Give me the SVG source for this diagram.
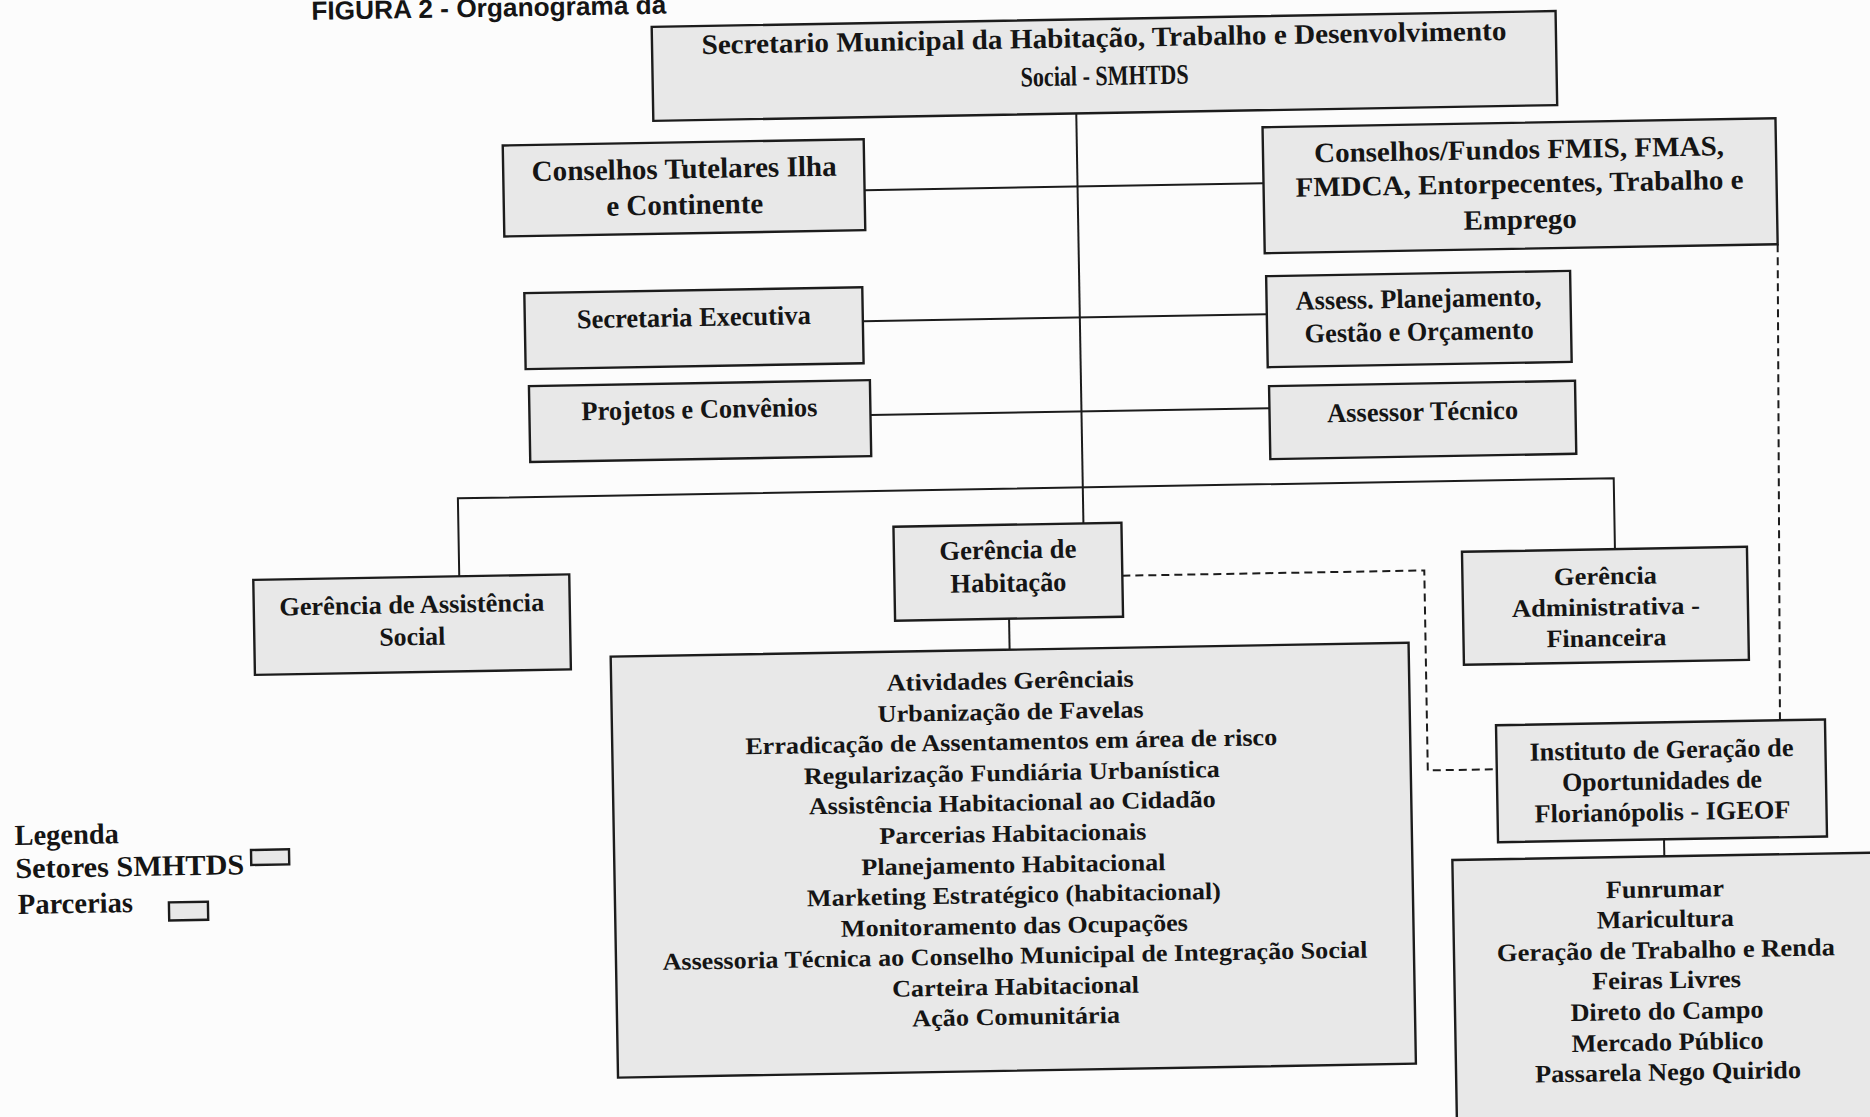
<svg xmlns="http://www.w3.org/2000/svg" width="1870" height="1117" viewBox="0 0 1870 1117">
<style>
.box{fill:#e8e8e8;stroke:#1c1c1c;stroke-width:2.4}
.t{font-family:"Liberation Serif","Times New Roman",serif;font-weight:bold;fill:#151515;text-anchor:middle}
.l{font-family:"Liberation Serif","Times New Roman",serif;font-weight:bold;fill:#151515}
.ln{fill:none;stroke:#1c1c1c;stroke-width:2}
.ds{fill:none;stroke:#1c1c1c;stroke-width:2;stroke-dasharray:8 5}
</style>
<rect width="1870" height="1117" fill="#fcfcfc"/>
<g id="scan" transform="rotate(-1 935 558)">
<text x="321" y="9" font-family="Liberation Sans, Arial, sans-serif" font-weight="bold" font-size="26" fill="#151515" textLength="355" lengthAdjust="spacingAndGlyphs">FIGURA 2 - Organograma da</text>
<g id="connectors">
<path class="ln" d="M1084 116 V526"/>
<path class="ln" d="M459 568 V490 H1615 V561"/>
<path class="ln" d="M871 189 H1270"/>
<path class="ln" d="M867 320 H1271"/>
<path class="ln" d="M873 414 H1272"/>
<path class="ln" d="M1008 620 V651"/>
<path class="ln" d="M1659 852 V869"/>
<path class="ds" d="M1122 579 H1424 V779 H1493"/>
<path class="ds" d="M1783 259 L1777 735"/>
</g>
<g id="secretario">
<rect class="box" x="661" y="22" width="904" height="94"/>
<text class="t" font-size="28" x="1113" y="50" textLength="805" lengthAdjust="spacingAndGlyphs">Secretario Municipal da Habitação, Trabalho e Desenvolvimento</text>
<text class="t" font-size="28" x="1113" y="88" textLength="168" lengthAdjust="spacingAndGlyphs">Social - SMHTDS</text>
</g>
<g id="conselhos-tutelares">
<rect class="box" x="510" y="138" width="361" height="91"/>
<text class="t" font-size="29" x="691" y="174" textLength="305" lengthAdjust="spacingAndGlyphs">Conselhos Tutelares Ilha</text>
<text class="t" font-size="29" x="691" y="210" textLength="157" lengthAdjust="spacingAndGlyphs">e Continente</text>
</g>
<g id="conselhos-fundos">
<rect class="box" x="1270" y="133" width="513" height="126"/>
<text class="t" font-size="28" x="1526" y="169" textLength="410" lengthAdjust="spacingAndGlyphs">Conselhos/Fundos FMIS, FMAS,</text>
<text class="t" font-size="28" x="1526" y="203" textLength="448" lengthAdjust="spacingAndGlyphs">FMDCA, Entorpecentes, Trabalho e</text>
<text class="t" font-size="28" x="1526" y="239" textLength="113" lengthAdjust="spacingAndGlyphs">Emprego</text>
</g>
<g id="secretaria-executiva">
<rect class="box" x="529" y="286" width="338" height="76"/>
<text class="t" font-size="27" x="698" y="322" textLength="234" lengthAdjust="spacingAndGlyphs">Secretaria Executiva</text>
</g>
<g id="assess-planejamento">
<rect class="box" x="1271" y="282" width="304" height="91"/>
<text class="t" font-size="27" x="1423" y="316" textLength="246" lengthAdjust="spacingAndGlyphs">Assess. Planejamento,</text>
<text class="t" font-size="27" x="1423" y="349" textLength="229" lengthAdjust="spacingAndGlyphs">Gestão e Orçamento</text>
</g>
<g id="projetos-convenios">
<rect class="box" x="532" y="379" width="341" height="76"/>
<text class="t" font-size="27" x="702" y="414" textLength="236" lengthAdjust="spacingAndGlyphs">Projetos e Convênios</text>
</g>
<g id="assessor-tecnico">
<rect class="box" x="1272" y="392" width="306" height="73"/>
<text class="t" font-size="27" x="1425" y="429" textLength="191" lengthAdjust="spacingAndGlyphs">Assessor Técnico</text>
</g>
<g id="gerencia-habitacao">
<rect class="box" x="894" y="526" width="228" height="94"/>
<text class="t" font-size="27" x="1008" y="560" textLength="137" lengthAdjust="spacingAndGlyphs">Gerência de</text>
<text class="t" font-size="27" x="1008" y="593" textLength="116" lengthAdjust="spacingAndGlyphs">Habitação</text>
</g>
<g id="gerencia-assistencia">
<rect class="box" x="253" y="568" width="316" height="95"/>
<text class="t" font-size="26" x="411" y="604" textLength="265" lengthAdjust="spacingAndGlyphs">Gerência de Assistência</text>
<text class="t" font-size="26" x="411" y="636" textLength="66" lengthAdjust="spacingAndGlyphs">Social</text>
</g>
<g id="gerencia-administrativa">
<rect class="box" x="1462" y="561" width="285" height="113"/>
<text class="t" font-size="25" x="1605" y="596" textLength="103" lengthAdjust="spacingAndGlyphs">Gerência</text>
<text class="t" font-size="25" x="1605" y="627" textLength="188" lengthAdjust="spacingAndGlyphs">Administrativa -</text>
<text class="t" font-size="25" x="1605" y="658" textLength="120" lengthAdjust="spacingAndGlyphs">Financeira</text>
</g>
<g id="habitacao-atividades">
<rect class="box" x="609" y="651" width="798" height="421"/>
<text class="t" font-size="24" x="1008" y="690" textLength="247" lengthAdjust="spacingAndGlyphs">Atividades Gerênciais</text>
<text class="t" font-size="24" x="1008" y="721" textLength="266" lengthAdjust="spacingAndGlyphs">Urbanização de Favelas</text>
<text class="t" font-size="24" x="1008" y="751" textLength="532" lengthAdjust="spacingAndGlyphs">Erradicação de Assentamentos em área de risco</text>
<text class="t" font-size="24" x="1008" y="782" textLength="416" lengthAdjust="spacingAndGlyphs">Regularização Fundiária Urbanística</text>
<text class="t" font-size="24" x="1008" y="812" textLength="407" lengthAdjust="spacingAndGlyphs">Assistência Habitacional ao Cidadão</text>
<text class="t" font-size="24" x="1008" y="843" textLength="267" lengthAdjust="spacingAndGlyphs">Parcerias Habitacionais</text>
<text class="t" font-size="24" x="1008" y="874" textLength="304" lengthAdjust="spacingAndGlyphs">Planejamento Habitacional</text>
<text class="t" font-size="24" x="1008" y="904" textLength="414" lengthAdjust="spacingAndGlyphs">Marketing Estratégico (habitacional)</text>
<text class="t" font-size="24" x="1008" y="935" textLength="347" lengthAdjust="spacingAndGlyphs">Monitoramento das Ocupações</text>
<text class="t" font-size="24" x="1008" y="965" textLength="705" lengthAdjust="spacingAndGlyphs">Assessoria Técnica ao Conselho Municipal de Integração Social</text>
<text class="t" font-size="24" x="1008" y="996" textLength="247" lengthAdjust="spacingAndGlyphs">Carteira Habitacional</text>
<text class="t" font-size="24" x="1008" y="1026" textLength="208" lengthAdjust="spacingAndGlyphs">Ação Comunitária</text>
</g>
<g id="igeof">
<rect class="box" x="1493" y="735" width="329" height="117"/>
<text class="t" font-size="26" x="1658" y="771" textLength="264" lengthAdjust="spacingAndGlyphs">Instituto de Geração de</text>
<text class="t" font-size="26" x="1658" y="802" textLength="200" lengthAdjust="spacingAndGlyphs">Oportunidades de</text>
<text class="t" font-size="26" x="1658" y="833" textLength="256" lengthAdjust="spacingAndGlyphs">Florianópolis - IGEOF</text>
</g>
<g id="igeof-atividades">
<rect class="box" x="1447" y="869" width="440" height="280"/>
<text class="t" font-size="25" x="1659" y="910" textLength="118" lengthAdjust="spacingAndGlyphs">Funrumar</text>
<text class="t" font-size="25" x="1659" y="940" textLength="137" lengthAdjust="spacingAndGlyphs">Maricultura</text>
<text class="t" font-size="25" x="1659" y="971" textLength="338" lengthAdjust="spacingAndGlyphs">Geração de Trabalho e Renda</text>
<text class="t" font-size="25" x="1659" y="1001" textLength="149" lengthAdjust="spacingAndGlyphs">Feiras Livres</text>
<text class="t" font-size="25" x="1659" y="1032" textLength="193" lengthAdjust="spacingAndGlyphs">Direto do Campo</text>
<text class="t" font-size="25" x="1659" y="1063" textLength="192" lengthAdjust="spacingAndGlyphs">Mercado Público</text>
<text class="t" font-size="25" x="1659" y="1093" textLength="266" lengthAdjust="spacingAndGlyphs">Passarela Nego Quirido</text>
</g>
<g id="legenda">
<text class="l" font-size="29" x="10" y="829" textLength="104" lengthAdjust="spacingAndGlyphs">Legenda</text>
<text class="l" font-size="29" x="10" y="862" textLength="229" lengthAdjust="spacingAndGlyphs">Setores SMHTDS</text>
<text class="l" font-size="29" x="12" y="898" textLength="115" lengthAdjust="spacingAndGlyphs">Parcerias</text>
<rect class="box" x="246" y="838" width="38" height="15" stroke-width="2"/>
<rect class="box" x="163" y="889" width="39" height="18" stroke-width="2"/>
</g>
</g>
</svg>
